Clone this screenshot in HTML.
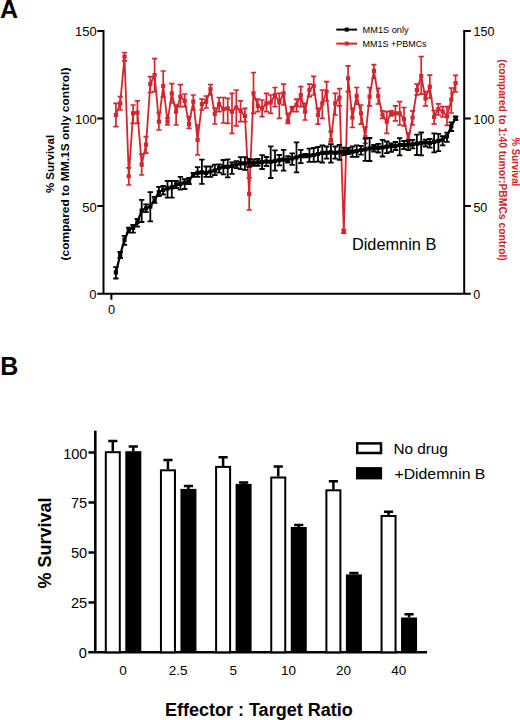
<!DOCTYPE html>
<html><head><meta charset="utf-8"><style>
html,body{margin:0;padding:0;background:#fff;}
body{width:520px;height:720px;overflow:hidden;font-family:"Liberation Sans",sans-serif;}
svg{display:block;}
</style></head><body>
<svg width="520" height="720" viewBox="0 0 520 720" font-family="Liberation Sans, sans-serif">
<rect width="520" height="720" fill="#fff"/>
<!-- Panel A -->
<text x="0" y="17.7" font-size="25" font-weight="bold">A</text>
<g stroke="#000" stroke-width="2" fill="none">
<path d="M103.5 30.1V294.8M464.2 30.1V294.8M97.3 293.8H465M97.3 31.1H103.5M97.3 118.5H103.5M97.3 205.9H103.5M464.2 31.1H470.8M464.2 118.5H470.8M464.2 205.9H470.8M464.2 293.8H470.8M111.4 293.8V299.8"/>
</g>
<g font-size="13" text-anchor="end">
<text x="96.8" y="36">150</text><text x="96.8" y="123.8">100</text><text x="96.8" y="211.6">50</text><text x="96.4" y="298.6">0</text>
</g>
<g font-size="12.5">
<text x="473.6" y="36.1">150</text><text x="473.6" y="123.8">100</text><text x="473.4" y="211.5">50</text><text x="473.2" y="298.7">0</text>
</g>
<text x="108" y="313.6" font-size="12.8">0</text>
<text transform="translate(54.3 164) rotate(-90)" text-anchor="middle" font-size="11.5" font-weight="bold">% Survival</text>
<text transform="translate(69.2 164) rotate(-90)" text-anchor="middle" font-size="11.5" font-weight="bold" textLength="192.8" lengthAdjust="spacingAndGlyphs">(compared to MM.1S only control)</text>
<text transform="translate(512.3 161.9) rotate(90)" text-anchor="middle" font-size="11.5" font-weight="bold" fill="#d2252d" textLength="48.6" lengthAdjust="spacingAndGlyphs">% Survival</text>
<text transform="translate(498.8 160) rotate(90)" text-anchor="middle" font-size="11.5" font-weight="bold" fill="#d2252d" textLength="201.6" lengthAdjust="spacingAndGlyphs">(compared to 1:40 tumor:PBMCs control)</text>
<!-- legend -->
<path d="M336.3 29.6H357.1" stroke="#000" stroke-width="2"/><rect x="344.7" y="27.6" width="4" height="4" fill="#000"/>
<path d="M336.3 43.6H357.1" stroke="#d2252d" stroke-width="2"/><rect x="344.7" y="41.6" width="4" height="4" fill="#d2252d"/>
<text x="362.6" y="32.6" font-size="9.4" textLength="46" lengthAdjust="spacingAndGlyphs">MM1S only</text>
<text x="362.6" y="47" font-size="9.4" textLength="64" lengthAdjust="spacingAndGlyphs">MM1S +PBMCs</text>
<text x="351.9" y="250.3" font-size="15.7" textLength="84.4" lengthAdjust="spacingAndGlyphs">Didemnin B</text>
<polyline points="115.90,115.00 120.20,103.30 124.50,56.70 128.80,176.25 133.10,113.30 137.40,112.50 141.70,164.60 146.00,144.60 150.30,84.20 154.60,75.00 158.90,121.70 163.20,86.00 167.50,121.70 171.80,93.30 176.10,111.70 180.40,96.70 184.70,100.80 189.00,124.20 193.30,101.70 197.60,140.00 201.90,104.20 206.20,101.70 210.50,89.20 214.80,114.00 219.10,104.20 223.40,109.20 227.70,108.30 232.00,111.70 236.30,107.50 240.60,110.80 244.90,115.80 249.20,193.90 253.50,93.30 257.80,105.80 262.10,108.30 266.40,103.30 270.70,102.50 275.00,95.00 279.30,102.50 283.60,93.30 287.90,120.80 292.20,108.30 296.50,105.00 300.80,95.00 305.10,111.70 309.40,90.00 313.70,85.80 318.00,115.00 322.30,103.30 326.60,91.50 330.90,140.00 335.20,103.30 339.50,97.50 343.80,232.00 348.10,78.30 352.40,117.50 356.70,95.80 361.00,113.30 365.30,137.00 369.60,96.70 373.90,70.80 378.20,96.00 382.50,114.50 386.80,121.70 391.10,113.30 395.40,113.30 399.70,113.30 404.00,119.20 408.30,140.00 412.60,117.50 416.90,90.00 421.20,76.00 425.50,98.50 429.80,86.60 434.10,117.00 438.40,109.00 442.70,111.50 447.00,116.40 451.30,99.70 455.60,83.00" fill="none" stroke="#d2252d" stroke-width="1.8" stroke-linejoin="round"/>
<path d="M115.90 103.30V126.70M113.30 103.30h5.2M113.30 126.70h5.2M120.20 96.70V110.00M117.60 96.70h5.2M117.60 110.00h5.2M124.50 52.50V60.80M121.90 52.50h5.2M121.90 60.80h5.2M128.80 167.90V185.00M126.20 167.90h5.2M126.20 185.00h5.2M133.10 105.00V123.30M130.50 105.00h5.2M130.50 123.30h5.2M137.40 100.80V123.30M134.80 100.80h5.2M134.80 123.30h5.2M141.70 154.20V175.00M139.10 154.20h5.2M139.10 175.00h5.2M146.00 136.70V153.20M143.40 136.70h5.2M143.40 153.20h5.2M150.30 76.70V92.50M147.70 76.70h5.2M147.70 92.50h5.2M154.60 58.70V91.70M152.00 58.70h5.2M152.00 91.70h5.2M158.90 112.50V130.00M156.30 112.50h5.2M156.30 130.00h5.2M163.20 71.00V97.00M160.60 71.00h5.2M160.60 97.00h5.2M167.50 118.00V125.00M164.90 118.00h5.2M164.90 125.00h5.2M171.80 83.70V103.00M169.20 83.70h5.2M169.20 103.00h5.2M176.10 105.00V125.00M173.50 105.00h5.2M173.50 125.00h5.2M180.40 84.70V106.70M177.80 84.70h5.2M177.80 106.70h5.2M184.70 94.00V106.70M182.10 94.00h5.2M182.10 106.70h5.2M189.00 116.70V128.30M186.40 116.70h5.2M186.40 128.30h5.2M193.30 95.00V110.00M190.70 95.00h5.2M190.70 110.00h5.2M197.60 125.00V155.00M195.00 125.00h5.2M195.00 155.00h5.2M201.90 99.20V110.00M199.30 99.20h5.2M199.30 110.00h5.2M206.20 96.00V108.00M203.60 96.00h5.2M203.60 108.00h5.2M210.50 84.70V95.00M207.90 84.70h5.2M207.90 95.00h5.2M214.80 108.00V124.00M212.20 108.00h5.2M212.20 124.00h5.2M219.10 97.50V111.70M216.50 97.50h5.2M216.50 111.70h5.2M223.40 97.50V123.00M220.80 97.50h5.2M220.80 123.00h5.2M227.70 98.30V123.30M225.10 98.30h5.2M225.10 123.30h5.2M232.00 93.30V133.30M229.40 93.30h5.2M229.40 133.30h5.2M236.30 90.00V125.80M233.70 90.00h5.2M233.70 125.80h5.2M240.60 100.80V121.70M238.00 100.80h5.2M238.00 121.70h5.2M244.90 108.30V121.70M242.30 108.30h5.2M242.30 121.70h5.2M249.20 177.80V210.00M246.60 177.80h5.2M246.60 210.00h5.2M253.50 72.50V113.30M250.90 72.50h5.2M250.90 113.30h5.2M257.80 99.20V111.70M255.20 99.20h5.2M255.20 111.70h5.2M262.10 100.00V116.70M259.50 100.00h5.2M259.50 116.70h5.2M266.40 93.30V111.70M263.80 93.30h5.2M263.80 111.70h5.2M270.70 95.00V113.30M268.10 95.00h5.2M268.10 113.30h5.2M275.00 87.50V106.70M272.40 87.50h5.2M272.40 106.70h5.2M279.30 93.30V118.30M276.70 93.30h5.2M276.70 118.30h5.2M283.60 84.20V105.00M281.00 84.20h5.2M281.00 105.00h5.2M287.90 113.30V123.30M285.30 113.30h5.2M285.30 123.30h5.2M292.20 106.70V111.70M289.60 106.70h5.2M289.60 111.70h5.2M296.50 99.20V111.70M293.90 99.20h5.2M293.90 111.70h5.2M300.80 86.70V106.70M298.20 86.70h5.2M298.20 106.70h5.2M305.10 103.30V120.00M302.50 103.30h5.2M302.50 120.00h5.2M309.40 84.20V96.70M306.80 84.20h5.2M306.80 96.70h5.2M313.70 76.30V95.00M311.10 76.30h5.2M311.10 95.00h5.2M318.00 108.30V124.20M315.40 108.30h5.2M315.40 124.20h5.2M322.30 90.00V118.30M319.70 90.00h5.2M319.70 118.30h5.2M326.60 81.70V101.00M324.00 81.70h5.2M324.00 101.00h5.2M330.90 131.70V142.00M328.30 131.70h5.2M328.30 142.00h5.2M335.20 93.30V115.00M332.60 93.30h5.2M332.60 115.00h5.2M339.50 88.70V105.80M336.90 88.70h5.2M336.90 105.80h5.2M343.80 229.50V233.00M341.20 229.50h5.2M341.20 233.00h5.2M348.10 65.80V91.70M345.50 65.80h5.2M345.50 91.70h5.2M352.40 108.30V127.50M349.80 108.30h5.2M349.80 127.50h5.2M356.70 87.50V104.20M354.10 87.50h5.2M354.10 104.20h5.2M361.00 105.00V124.20M358.40 105.00h5.2M358.40 124.20h5.2M365.30 127.00V143.30M362.70 127.00h5.2M362.70 143.30h5.2M369.60 87.50V105.80M367.00 87.50h5.2M367.00 105.80h5.2M373.90 64.70V78.30M371.30 64.70h5.2M371.30 78.30h5.2M378.20 88.30V104.00M375.60 88.30h5.2M375.60 104.00h5.2M382.50 110.80V118.30M379.90 110.80h5.2M379.90 118.30h5.2M386.80 111.70V133.30M384.20 111.70h5.2M384.20 133.30h5.2M391.10 110.80V115.80M388.50 110.80h5.2M388.50 115.80h5.2M395.40 105.80V120.80M392.80 105.80h5.2M392.80 120.80h5.2M399.70 101.70V125.00M397.10 101.70h5.2M397.10 125.00h5.2M404.00 107.50V125.80M401.40 107.50h5.2M401.40 125.80h5.2M408.30 133.00V146.70M405.70 133.00h5.2M405.70 146.70h5.2M412.60 110.80V125.00M410.00 110.80h5.2M410.00 125.00h5.2M416.90 84.20V95.00M414.30 84.20h5.2M414.30 95.00h5.2M421.20 56.70V94.20M418.60 56.70h5.2M418.60 94.20h5.2M425.50 91.70V105.80M422.90 91.70h5.2M422.90 105.80h5.2M429.80 75.20V98.00M427.20 75.20h5.2M427.20 98.00h5.2M434.10 110.50V123.80M431.50 110.50h5.2M431.50 123.80h5.2M438.40 103.90V115.00M435.80 103.90h5.2M435.80 115.00h5.2M442.70 106.70V117.00M440.10 106.70h5.2M440.10 117.00h5.2M447.00 106.70V125.40M444.40 106.70h5.2M444.40 125.40h5.2M451.30 88.00V113.00M448.70 88.00h5.2M448.70 113.00h5.2M455.60 75.40V92.00M453.00 75.40h5.2M453.00 92.00h5.2" fill="none" stroke="#d2252d" stroke-width="1.7"/>
<path d="M113.80 112.90h4.2v4.2h-4.2zM118.10 101.20h4.2v4.2h-4.2zM122.40 54.60h4.2v4.2h-4.2zM126.70 174.15h4.2v4.2h-4.2zM131.00 111.20h4.2v4.2h-4.2zM135.30 110.40h4.2v4.2h-4.2zM139.60 162.50h4.2v4.2h-4.2zM143.90 142.50h4.2v4.2h-4.2zM148.20 82.10h4.2v4.2h-4.2zM152.50 72.90h4.2v4.2h-4.2zM156.80 119.60h4.2v4.2h-4.2zM161.10 83.90h4.2v4.2h-4.2zM165.40 119.60h4.2v4.2h-4.2zM169.70 91.20h4.2v4.2h-4.2zM174.00 109.60h4.2v4.2h-4.2zM178.30 94.60h4.2v4.2h-4.2zM182.60 98.70h4.2v4.2h-4.2zM186.90 122.10h4.2v4.2h-4.2zM191.20 99.60h4.2v4.2h-4.2zM195.50 137.90h4.2v4.2h-4.2zM199.80 102.10h4.2v4.2h-4.2zM204.10 99.60h4.2v4.2h-4.2zM208.40 87.10h4.2v4.2h-4.2zM212.70 111.90h4.2v4.2h-4.2zM217.00 102.10h4.2v4.2h-4.2zM221.30 107.10h4.2v4.2h-4.2zM225.60 106.20h4.2v4.2h-4.2zM229.90 109.60h4.2v4.2h-4.2zM234.20 105.40h4.2v4.2h-4.2zM238.50 108.70h4.2v4.2h-4.2zM242.80 113.70h4.2v4.2h-4.2zM247.10 191.80h4.2v4.2h-4.2zM251.40 91.20h4.2v4.2h-4.2zM255.70 103.70h4.2v4.2h-4.2zM260.00 106.20h4.2v4.2h-4.2zM264.30 101.20h4.2v4.2h-4.2zM268.60 100.40h4.2v4.2h-4.2zM272.90 92.90h4.2v4.2h-4.2zM277.20 100.40h4.2v4.2h-4.2zM281.50 91.20h4.2v4.2h-4.2zM285.80 118.70h4.2v4.2h-4.2zM290.10 106.20h4.2v4.2h-4.2zM294.40 102.90h4.2v4.2h-4.2zM298.70 92.90h4.2v4.2h-4.2zM303.00 109.60h4.2v4.2h-4.2zM307.30 87.90h4.2v4.2h-4.2zM311.60 83.70h4.2v4.2h-4.2zM315.90 112.90h4.2v4.2h-4.2zM320.20 101.20h4.2v4.2h-4.2zM324.50 89.40h4.2v4.2h-4.2zM328.80 137.90h4.2v4.2h-4.2zM333.10 101.20h4.2v4.2h-4.2zM337.40 95.40h4.2v4.2h-4.2zM341.70 229.90h4.2v4.2h-4.2zM346.00 76.20h4.2v4.2h-4.2zM350.30 115.40h4.2v4.2h-4.2zM354.60 93.70h4.2v4.2h-4.2zM358.90 111.20h4.2v4.2h-4.2zM363.20 134.90h4.2v4.2h-4.2zM367.50 94.60h4.2v4.2h-4.2zM371.80 68.70h4.2v4.2h-4.2zM376.10 93.90h4.2v4.2h-4.2zM380.40 112.40h4.2v4.2h-4.2zM384.70 119.60h4.2v4.2h-4.2zM389.00 111.20h4.2v4.2h-4.2zM393.30 111.20h4.2v4.2h-4.2zM397.60 111.20h4.2v4.2h-4.2zM401.90 117.10h4.2v4.2h-4.2zM406.20 137.90h4.2v4.2h-4.2zM410.50 115.40h4.2v4.2h-4.2zM414.80 87.90h4.2v4.2h-4.2zM419.10 73.90h4.2v4.2h-4.2zM423.40 96.40h4.2v4.2h-4.2zM427.70 84.50h4.2v4.2h-4.2zM432.00 114.90h4.2v4.2h-4.2zM436.30 106.90h4.2v4.2h-4.2zM440.60 109.40h4.2v4.2h-4.2zM444.90 114.30h4.2v4.2h-4.2zM449.20 97.60h4.2v4.2h-4.2zM453.50 80.90h4.2v4.2h-4.2z" fill="#d2252d"/>
<polyline points="115.90,272.40 120.20,254.90 124.50,239.60 128.80,229.70 133.10,228.00 137.40,222.00 141.70,210.60 146.00,208.30 150.30,206.70 154.60,199.90 158.90,192.20 163.20,189.90 167.50,188.40 171.80,187.30 176.10,184.40 180.40,183.80 184.70,182.70 189.00,181.00 193.30,174.60 197.60,172.90 201.90,172.30 206.20,172.90 210.50,171.50 214.80,170.50 219.10,168.10 223.40,166.90 227.70,166.90 232.00,165.80 236.30,164.60 240.60,163.40 244.90,163.40 249.20,162.30 253.50,162.90 257.80,162.30 262.10,162.10 266.40,161.50 270.70,161.90 275.00,160.80 279.30,160.20 283.60,159.60 287.90,159.60 292.20,158.40 296.50,157.30 300.80,156.10 305.10,155.60 309.40,155.60 313.70,155.00 318.00,154.00 322.30,152.90 326.60,152.90 330.90,152.30 335.20,152.90 339.50,152.30 343.80,151.70 348.10,151.10 352.40,151.70 356.70,151.10 361.00,150.00 365.30,149.40 369.60,148.40 373.90,148.20 378.20,147.90 382.50,147.30 386.80,146.70 391.10,146.10 395.40,146.10 399.70,145.00 404.00,145.00 408.30,144.40 412.60,144.30 416.90,143.70 421.20,143.10 425.50,142.50 429.80,143.10 434.10,141.90 438.40,140.80 442.70,139.60 447.00,136.10 451.30,126.30 455.60,118.30" fill="none" stroke="#000" stroke-width="2.2" stroke-linejoin="round"/>
<path d="M115.90 267.10V278.50M113.20 267.10h5.4M113.20 278.50h5.4M120.20 252.00V258.00M117.50 252.00h5.4M117.50 258.00h5.4M124.50 235.80V244.90M121.80 235.80h5.4M121.80 244.90h5.4M128.80 227.70V232.70M126.10 227.70h5.4M126.10 232.70h5.4M133.10 225.00V232.70M130.40 225.00h5.4M130.40 232.70h5.4M137.40 219.00V226.60M134.70 219.00h5.4M134.70 226.60h5.4M141.70 199.90V222.00M139.00 199.90h5.4M139.00 222.00h5.4M146.00 204.40V212.10M143.30 204.40h5.4M143.30 212.10h5.4M150.30 192.20V221.30M147.60 192.20h5.4M147.60 221.30h5.4M154.60 196.80V202.90M151.90 196.80h5.4M151.90 202.90h5.4M158.90 186.90V196.00M156.20 186.90h5.4M156.20 196.00h5.4M163.20 186.00V194.50M160.50 186.00h5.4M160.50 194.50h5.4M167.50 181.00V197.70M164.80 181.00h5.4M164.80 197.70h5.4M171.80 181.00V197.70M169.10 181.00h5.4M169.10 197.70h5.4M176.10 181.00V188.00M173.40 181.00h5.4M173.40 188.00h5.4M180.40 176.90V189.60M177.70 176.90h5.4M177.70 189.60h5.4M184.70 179.20V189.00M182.00 179.20h5.4M182.00 189.00h5.4M189.00 178.00V184.00M186.30 178.00h5.4M186.30 184.00h5.4M193.30 172.90V176.90M190.60 172.90h5.4M190.60 176.90h5.4M197.60 167.10V176.90M194.90 167.10h5.4M194.90 176.90h5.4M201.90 159.60V183.80M199.20 159.60h5.4M199.20 183.80h5.4M206.20 166.50V176.90M203.50 166.50h5.4M203.50 176.90h5.4M210.50 166.50V176.90M207.80 166.50h5.4M207.80 176.90h5.4M214.80 164.60V175.00M212.10 164.60h5.4M212.10 175.00h5.4M219.10 164.50V172.60M216.40 164.50h5.4M216.40 172.60h5.4M223.40 160.00V174.40M220.70 160.00h5.4M220.70 174.40h5.4M227.70 159.40V177.30M225.00 159.40h5.4M225.00 177.30h5.4M232.00 162.30V173.80M229.30 162.30h5.4M229.30 173.80h5.4M236.30 161.10V168.10M233.60 161.10h5.4M233.60 168.10h5.4M240.60 157.10V169.20M237.90 157.10h5.4M237.90 169.20h5.4M244.90 157.10V169.80M242.20 157.10h5.4M242.20 169.80h5.4M249.20 158.80V166.90M246.50 158.80h5.4M246.50 166.90h5.4M253.50 159.40V165.80M250.80 159.40h5.4M250.80 165.80h5.4M257.80 158.80V165.80M255.10 158.80h5.4M255.10 165.80h5.4M262.10 155.20V169.00M259.40 155.20h5.4M259.40 169.00h5.4M266.40 157.00V166.00M263.70 157.00h5.4M263.70 166.00h5.4M270.70 146.30V178.00M268.00 146.30h5.4M268.00 178.00h5.4M275.00 150.40V170.60M272.30 150.40h5.4M272.30 170.60h5.4M279.30 155.00V165.40M276.60 155.00h5.4M276.60 165.40h5.4M283.60 149.80V170.60M280.90 149.80h5.4M280.90 170.60h5.4M287.90 156.10V162.50M285.20 156.10h5.4M285.20 162.50h5.4M292.20 153.30V164.80M289.50 153.30h5.4M289.50 164.80h5.4M296.50 142.30V172.30M293.80 142.30h5.4M293.80 172.30h5.4M300.80 149.80V163.10M298.10 149.80h5.4M298.10 163.10h5.4M305.10 153.80V157.30M302.40 153.80h5.4M302.40 157.30h5.4M309.40 148.60V161.90M306.70 148.60h5.4M306.70 161.90h5.4M313.70 148.00V161.90M311.00 148.00h5.4M311.00 161.90h5.4M318.00 147.00V161.70M315.30 147.00h5.4M315.30 161.70h5.4M322.30 145.40V162.70M319.60 145.40h5.4M319.60 162.70h5.4M326.60 146.50V158.60M323.90 146.50h5.4M323.90 158.60h5.4M330.90 144.20V162.70M328.20 144.20h5.4M328.20 162.70h5.4M335.20 146.50V158.60M332.50 146.50h5.4M332.50 158.60h5.4M339.50 144.80V159.80M336.80 144.80h5.4M336.80 159.80h5.4M343.80 147.70V155.20M341.10 147.70h5.4M341.10 155.20h5.4M348.10 148.00V154.00M345.40 148.00h5.4M345.40 154.00h5.4M352.40 146.50V156.90M349.70 146.50h5.4M349.70 156.90h5.4M356.70 145.40V156.90M354.00 145.40h5.4M354.00 156.90h5.4M361.00 146.00V154.60M358.30 146.00h5.4M358.30 154.60h5.4M365.30 138.50V160.90M362.60 138.50h5.4M362.60 160.90h5.4M369.60 138.00V161.00M366.90 138.00h5.4M366.90 161.00h5.4M373.90 145.00V151.50M371.20 145.00h5.4M371.20 151.50h5.4M378.20 143.80V152.50M375.50 143.80h5.4M375.50 152.50h5.4M382.50 139.80V156.50M379.80 139.80h5.4M379.80 156.50h5.4M386.80 141.50V153.10M384.10 141.50h5.4M384.10 153.10h5.4M391.10 143.30V151.90M388.40 143.30h5.4M388.40 151.90h5.4M395.40 142.00V150.00M392.70 142.00h5.4M392.70 150.00h5.4M399.70 138.10V155.40M397.00 138.10h5.4M397.00 155.40h5.4M404.00 141.00V149.00M401.30 141.00h5.4M401.30 149.00h5.4M408.30 140.40V150.20M405.60 140.40h5.4M405.60 150.20h5.4M412.60 139.80V148.40M409.90 139.80h5.4M409.90 148.40h5.4M416.90 134.60V155.00M414.20 134.60h5.4M414.20 155.00h5.4M421.20 132.50V155.30M418.50 132.50h5.4M418.50 155.30h5.4M425.50 139.60V146.50M422.80 139.60h5.4M422.80 146.50h5.4M429.80 139.00V147.70M427.10 139.00h5.4M427.10 147.70h5.4M434.10 133.30V152.30M431.40 133.30h5.4M431.40 152.30h5.4M438.40 133.80V151.10M435.70 133.80h5.4M435.70 151.10h5.4M442.70 136.10V145.40M440.00 136.10h5.4M440.00 145.40h5.4M447.00 132.70V141.90M444.30 132.70h5.4M444.30 141.90h5.4M451.30 122.30V131.00M448.60 122.30h5.4M448.60 131.00h5.4M455.60 116.50V120.00M452.90 116.50h5.4M452.90 120.00h5.4" fill="none" stroke="#000" stroke-width="1.8"/>
<path d="M113.80 270.30h4.2v4.2h-4.2zM118.10 252.80h4.2v4.2h-4.2zM122.40 237.50h4.2v4.2h-4.2zM126.70 227.60h4.2v4.2h-4.2zM131.00 225.90h4.2v4.2h-4.2zM135.30 219.90h4.2v4.2h-4.2zM139.60 208.50h4.2v4.2h-4.2zM143.90 206.20h4.2v4.2h-4.2zM148.20 204.60h4.2v4.2h-4.2zM152.50 197.80h4.2v4.2h-4.2zM156.80 190.10h4.2v4.2h-4.2zM161.10 187.80h4.2v4.2h-4.2zM165.40 186.30h4.2v4.2h-4.2zM169.70 185.20h4.2v4.2h-4.2zM174.00 182.30h4.2v4.2h-4.2zM178.30 181.70h4.2v4.2h-4.2zM182.60 180.60h4.2v4.2h-4.2zM186.90 178.90h4.2v4.2h-4.2zM191.20 172.50h4.2v4.2h-4.2zM195.50 170.80h4.2v4.2h-4.2zM199.80 170.20h4.2v4.2h-4.2zM204.10 170.80h4.2v4.2h-4.2zM208.40 169.40h4.2v4.2h-4.2zM212.70 168.40h4.2v4.2h-4.2zM217.00 166.00h4.2v4.2h-4.2zM221.30 164.80h4.2v4.2h-4.2zM225.60 164.80h4.2v4.2h-4.2zM229.90 163.70h4.2v4.2h-4.2zM234.20 162.50h4.2v4.2h-4.2zM238.50 161.30h4.2v4.2h-4.2zM242.80 161.30h4.2v4.2h-4.2zM247.10 160.20h4.2v4.2h-4.2zM251.40 160.80h4.2v4.2h-4.2zM255.70 160.20h4.2v4.2h-4.2zM260.00 160.00h4.2v4.2h-4.2zM264.30 159.40h4.2v4.2h-4.2zM268.60 159.80h4.2v4.2h-4.2zM272.90 158.70h4.2v4.2h-4.2zM277.20 158.10h4.2v4.2h-4.2zM281.50 157.50h4.2v4.2h-4.2zM285.80 157.50h4.2v4.2h-4.2zM290.10 156.30h4.2v4.2h-4.2zM294.40 155.20h4.2v4.2h-4.2zM298.70 154.00h4.2v4.2h-4.2zM303.00 153.50h4.2v4.2h-4.2zM307.30 153.50h4.2v4.2h-4.2zM311.60 152.90h4.2v4.2h-4.2zM315.90 151.90h4.2v4.2h-4.2zM320.20 150.80h4.2v4.2h-4.2zM324.50 150.80h4.2v4.2h-4.2zM328.80 150.20h4.2v4.2h-4.2zM333.10 150.80h4.2v4.2h-4.2zM337.40 150.20h4.2v4.2h-4.2zM341.70 149.60h4.2v4.2h-4.2zM346.00 149.00h4.2v4.2h-4.2zM350.30 149.60h4.2v4.2h-4.2zM354.60 149.00h4.2v4.2h-4.2zM358.90 147.90h4.2v4.2h-4.2zM363.20 147.30h4.2v4.2h-4.2zM367.50 146.30h4.2v4.2h-4.2zM371.80 146.10h4.2v4.2h-4.2zM376.10 145.80h4.2v4.2h-4.2zM380.40 145.20h4.2v4.2h-4.2zM384.70 144.60h4.2v4.2h-4.2zM389.00 144.00h4.2v4.2h-4.2zM393.30 144.00h4.2v4.2h-4.2zM397.60 142.90h4.2v4.2h-4.2zM401.90 142.90h4.2v4.2h-4.2zM406.20 142.30h4.2v4.2h-4.2zM410.50 142.20h4.2v4.2h-4.2zM414.80 141.60h4.2v4.2h-4.2zM419.10 141.00h4.2v4.2h-4.2zM423.40 140.40h4.2v4.2h-4.2zM427.70 141.00h4.2v4.2h-4.2zM432.00 139.80h4.2v4.2h-4.2zM436.30 138.70h4.2v4.2h-4.2zM440.60 137.50h4.2v4.2h-4.2zM444.90 134.00h4.2v4.2h-4.2zM449.20 124.20h4.2v4.2h-4.2zM453.50 116.20h4.2v4.2h-4.2z" fill="#000"/>
<!-- Panel B -->
<text x="0.2" y="374.6" font-size="25" font-weight="bold">B</text>
<g stroke="#000" stroke-width="2.6" fill="none">
<path d="M95.3 430.8V653.4M88.3 652.3H427M88.5 452.5H95.3M88.5 502.5H95.3M88.5 552.5H95.3M88.5 602.5H95.3"/>
</g>
<g font-size="14.6" text-anchor="end">
<text x="87.4" y="458.5" textLength="24.2" lengthAdjust="spacingAndGlyphs">100</text><text x="87.2" y="508.3">75</text><text x="87.2" y="558.3">50</text><text x="87.2" y="608.3">25</text><text x="86.8" y="658">0</text>
</g>
<rect x="105.80" y="452.20" width="14.00" height="200.10" fill="#fff" stroke="#000" stroke-width="2"/><path d="M112.80 441.10V451.20M108.20 441.10h9.2" stroke="#000" stroke-width="2.5"/><rect x="125.30" y="451.20" width="16.00" height="201.10" fill="#000"/><path d="M133.30 446.60V451.20M128.70 446.60h9.2" stroke="#000" stroke-width="2.5"/><text x="123.00" y="674.6" text-anchor="middle" font-size="13.5">0</text><rect x="160.95" y="470.30" width="14.00" height="182.00" fill="#fff" stroke="#000" stroke-width="2"/><path d="M167.95 460.00V469.30M163.35 460.00h9.2" stroke="#000" stroke-width="2.5"/><rect x="180.45" y="488.90" width="16.00" height="163.40" fill="#000"/><path d="M188.45 486.10V488.90M183.85 486.10h9.2" stroke="#000" stroke-width="2.5"/><text x="178.15" y="674.6" text-anchor="middle" font-size="13.5">2.5</text><rect x="216.10" y="466.90" width="14.00" height="185.40" fill="#fff" stroke="#000" stroke-width="2"/><path d="M223.10 457.30V465.90M218.50 457.30h9.2" stroke="#000" stroke-width="2.5"/><rect x="235.60" y="483.90" width="16.00" height="168.40" fill="#000"/><path d="M243.60 482.60V483.90M239.00 482.60h9.2" stroke="#000" stroke-width="2.5"/><text x="233.30" y="674.6" text-anchor="middle" font-size="13.5">5</text><rect x="271.25" y="477.50" width="14.00" height="174.80" fill="#fff" stroke="#000" stroke-width="2"/><path d="M278.25 466.60V476.50M273.65 466.60h9.2" stroke="#000" stroke-width="2.5"/><rect x="290.75" y="527.00" width="16.00" height="125.30" fill="#000"/><path d="M298.75 525.00V527.00M294.15 525.00h9.2" stroke="#000" stroke-width="2.5"/><text x="288.45" y="674.6" text-anchor="middle" font-size="13.5">10</text><rect x="326.40" y="490.30" width="14.00" height="162.00" fill="#fff" stroke="#000" stroke-width="2"/><path d="M333.40 481.20V489.30M328.80 481.20h9.2" stroke="#000" stroke-width="2.5"/><rect x="345.90" y="574.40" width="16.00" height="77.90" fill="#000"/><path d="M353.90 573.10V574.40M349.30 573.10h9.2" stroke="#000" stroke-width="2.5"/><text x="343.60" y="674.6" text-anchor="middle" font-size="13.5">20</text><rect x="381.55" y="516.00" width="14.00" height="136.30" fill="#fff" stroke="#000" stroke-width="2"/><path d="M388.55 511.75V515.00M383.95 511.75h9.2" stroke="#000" stroke-width="2.5"/><rect x="401.05" y="617.50" width="16.00" height="34.80" fill="#000"/><path d="M409.05 614.25V617.50M404.45 614.25h9.2" stroke="#000" stroke-width="2.5"/><text x="398.75" y="674.6" text-anchor="middle" font-size="13.5">40</text>
<rect x="357.2" y="443.4" width="23.8" height="9.6" fill="#fff" stroke="#000" stroke-width="2.5"/>
<rect x="356" y="467.1" width="26.1" height="12.3" fill="#000"/>
<text x="393.4" y="454.2" font-size="15.5" textLength="54.5" lengthAdjust="spacingAndGlyphs">No drug</text>
<text x="394.4" y="478.8" font-size="15.5" textLength="91" lengthAdjust="spacingAndGlyphs">+Didemnin B</text>
<text transform="translate(51.4 543) rotate(-90)" text-anchor="middle" font-size="18" font-weight="bold">% Survival</text>
<text x="258.8" y="716" text-anchor="middle" font-size="18" font-weight="bold">Effector : Target Ratio</text>
</svg>
</body></html>
